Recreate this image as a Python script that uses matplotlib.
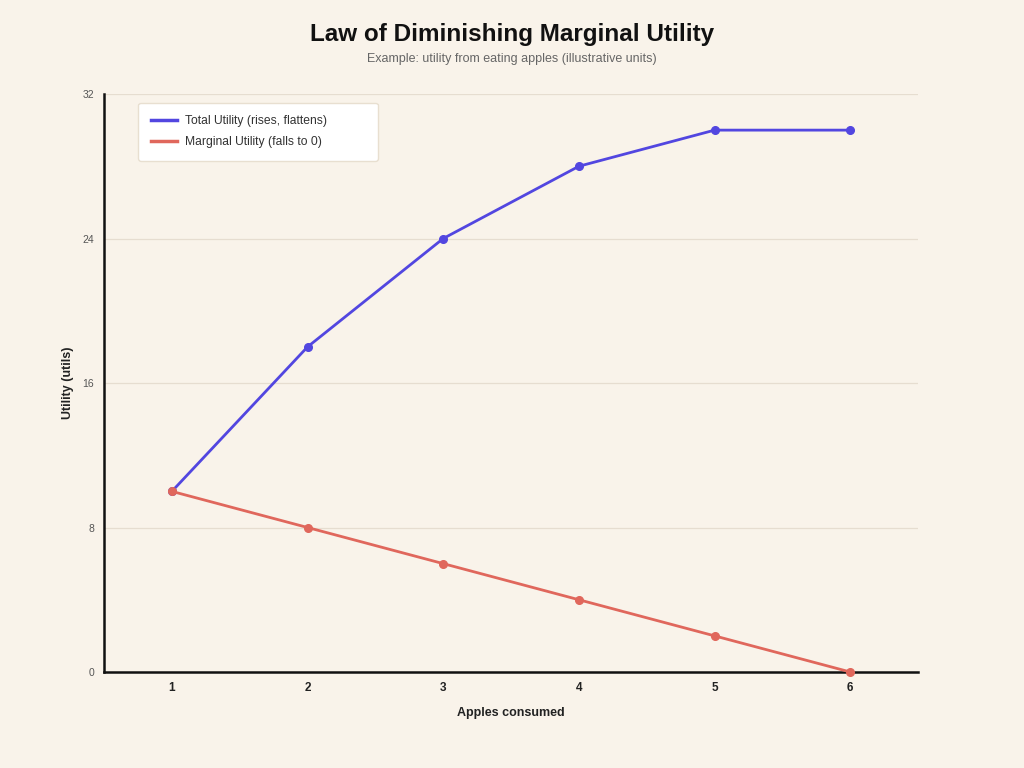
import matplotlib.pyplot as plt

apples = [1, 2, 3, 4, 5, 6]
total_utility = [10, 18, 24, 28, 30, 30]
marginal_utility = [10, 8, 6, 4, 2, 0]
y_ticks = [0, 8, 16, 24, 32]

bg = "#f9f3ea"
blue = "#5246e0"
red = "#e0675c"

plt.rcParams['font.family'] = ['Liberation Sans', 'DejaVu Sans']

fig = plt.figure(figsize=(10.24, 7.68), dpi=100, facecolor=bg)
ax = fig.add_axes([0.1016, 0.125, 0.795, 0.7526], facecolor=bg)

ax.plot(apples, total_utility, color=blue, lw=2.0, marker="o", ms=5.5,
        label="Total Utility (rises, flattens)", zorder=3, clip_on=False)
ax.plot(apples, marginal_utility, color=red, lw=2.0, marker="o", ms=5.5,
        label="Marginal Utility (falls to 0)", zorder=3, clip_on=False)

ax.set_xlim(0.5, 6.5)
ax.set_ylim(0, 32)
ax.set_xticks(apples)
ax.set_yticks(y_ticks)
ax.tick_params(axis="x", length=0, pad=7.5, labelsize=8.5, labelcolor="#222222")
ax.tick_params(axis="y", length=0, pad=7, labelsize=7.5, labelcolor="#555555")
for lab in ax.get_xticklabels():
    lab.set_fontweight("bold")

ax.grid(axis="y", color="#e6ddd0", lw=0.9)
ax.set_axisbelow(True)
for s in ["top", "right"]:
    ax.spines[s].set_visible(False)
ax.spines["left"].set_linewidth(1.8)
ax.spines["bottom"].set_linewidth(1.8)
ax.spines["left"].set_color("#111111")
ax.spines["bottom"].set_color("#111111")

ax.set_xlabel("Apples consumed", fontsize=9, fontweight="bold", color="#222222")
ax.set_ylabel("Utility (utils)", fontsize=9, fontweight="bold", color="#222222")
ax.xaxis.set_label_coords(0.5, -0.0605)
ax.yaxis.set_label_coords(-0.037, 0.5)

# legend box spans ~x 138-377 px
leg = ax.legend(loc="upper left", bbox_to_anchor=(0.042, 0.985, 0.294, 0.0), mode="expand",
                fontsize=8.7, frameon=True, fancybox=True, borderpad=1.05, labelspacing=0.7,
                handlelength=2.15, handletextpad=0.65, borderaxespad=0, labelcolor="#333333")
leg.get_frame().set_facecolor("white")
leg.get_frame().set_edgecolor("#e8dfd0")
leg.get_frame().set_alpha(1)
for h in leg.get_lines():
    h.set_marker("")
    h.set_linewidth(2.5)

fig.text(0.5, 0.955, "Law of Diminishing Marginal Utility", ha="center", va="center",
         fontsize=17.5, fontweight="bold", color="#111111")
fig.text(0.5, 0.923, "Example: utility from eating apples (illustrative units)", ha="center",
         va="center", fontsize=9, color="#666666")

fig.savefig("out.png", dpi=100, facecolor=bg)
